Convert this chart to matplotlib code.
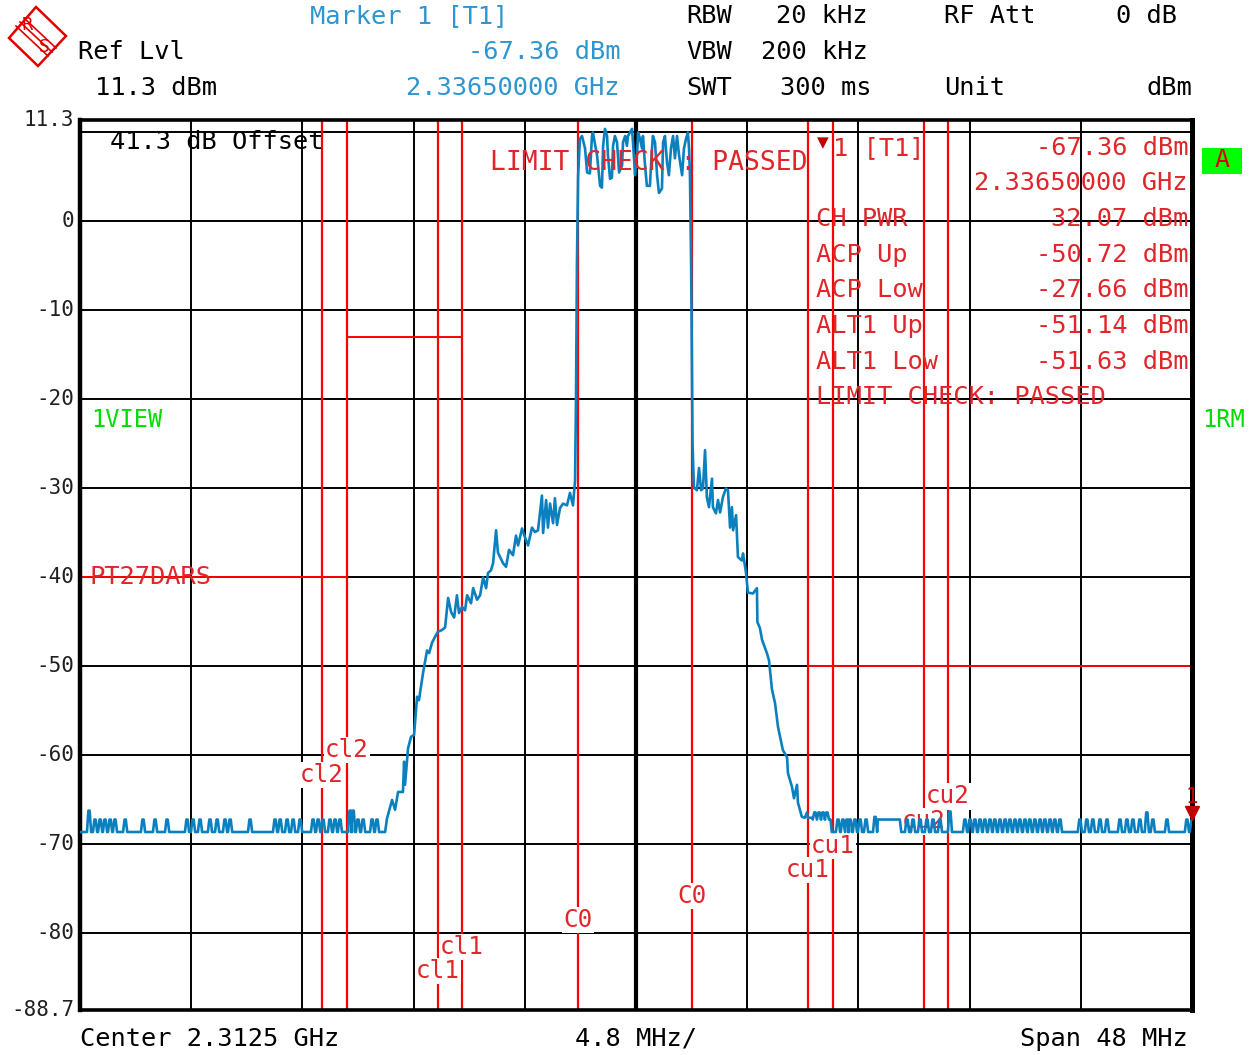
import matplotlib
matplotlib.use("Agg")
import matplotlib.pyplot as plt
from matplotlib.lines import Line2D
from matplotlib.patches import Polygon, Rectangle

W, H = 1257, 1055
FONT = "DejaVu Sans Mono"

# ---- sweep settings ----
center_ghz = 2.3125
span_mhz = 48.0
ref_lvl = 11.3
bottom_lvl = -88.7
floor_dbm = -68.7

# ---- trace (frequency offset from center in MHz, level in dBm) ----
left_spike_mhz = [-23.61, -23.35, -23.13, -22.92, -22.70, -22.49, -22.05, -21.28, -20.76,
                  -20.24, -19.38, -19.12, -18.82, -18.39, -18.08, -17.74, -17.52, -16.66,
                  -15.58, -15.36, -15.06, -14.80, -14.50, -13.94, -13.72, -13.51, -13.21,
                  -12.99, -12.78, -12.34, -12.21, -12.00, -11.78, -11.39, -11.18]
left_spike_dbm = [-66.3, -67.3, -67.3, -67.3, -67.3, -67.3, -67.3, -67.3, -67.3,
                  -67.3, -67.3, -67.3, -67.3, -67.3, -67.3, -67.3, -67.3, -67.3,
                  -67.3, -67.3, -67.3, -67.3, -67.3, -67.3, -67.3, -67.3, -67.3,
                  -67.3, -67.3, -66.3, -66.3, -67.3, -67.3, -67.3, -67.3]

skirt_lo_mhz = [-10.83, -10.75, -10.53, -10.40, -10.27, -10.06, -10.01, -9.97, -9.84, -9.71,
                -9.58, -9.45, -9.37, -9.19, -9.02, -8.93, -8.80, -8.68, -8.55, -8.37,
                -8.24, -8.11, -7.98, -7.85, -7.73, -7.64, -7.51, -7.38, -7.29, -7.12,
                -7.03, -6.86, -6.73, -6.60, -6.47, -6.39, -6.26, -6.17, -6.04, -5.96,
                -5.74, -5.61, -5.48, -5.31, -5.18, -5.09, -4.92, -4.79, -4.66, -4.49,
                -4.36, -4.23, -4.06, -4.01, -3.88, -3.80, -3.71, -3.58, -3.50, -3.41,
                -3.28, -3.15, -2.98, -2.85, -2.72, -2.63]
skirt_lo_dbm = [-68.7, -67.2, -65.1, -66.2, -64.2, -64.2, -60.8, -63.4, -59.3, -58.0,
                -57.8, -53.5, -53.9, -50.8, -48.3, -48.6, -47.4, -46.8, -46.2, -46.0,
                -45.7, -42.4, -44.0, -44.6, -42.1, -44.1, -43.4, -43.8, -42.1, -43.0,
                -41.3, -42.6, -42.1, -40.1, -41.3, -39.6, -39.3, -38.5, -34.8, -37.3,
                -38.5, -38.9, -37.0, -37.6, -35.4, -36.5, -34.6, -35.6, -36.5, -34.5,
                -35.0, -34.8, -30.9, -35.1, -31.4, -34.5, -31.8, -34.0, -31.2, -34.2,
                -32.3, -31.8, -32.0, -30.6, -32.0, -29.2]

lobe_mhz = [-2.59, -2.55, -2.50, -2.42, -2.33, -2.20, -2.11, -1.99, -1.90, -1.86,
            -1.68, -1.55, -1.47, -1.42, -1.34, -1.25, -1.21, -1.12, -1.04, -0.99,
            -0.91, -0.82, -0.73, -0.60, -0.56, -0.47, -0.39, -0.35, -0.17, -0.13,
            -0.04, 0.04, 0.09, 0.17, 0.26, 0.30, 0.39, 0.47, 0.60, 0.69,
            0.73, 0.82, 0.91, 0.99, 1.12, 1.17, 1.25, 1.34, 1.42, 1.51,
            1.60, 1.68, 1.77, 1.86, 1.99, 2.07, 2.16, 2.24, 2.29, 2.33]
lobe_dbm = [-20.0, -5.0, 5.0, 9.2, 9.5, 8.1, 5.4, 5.3, 9.5, 9.9,
            7.3, 3.9, 3.7, 8.4, 10.3, 9.5, 7.3, 4.7, 4.8, 8.4,
            9.5, 8.8, 5.4, 6.2, 8.8, 9.5, 8.4, 9.5, 10.3, 8.8,
            5.1, 7.3, 9.9, 9.2, 8.1, 9.5, 6.2, 3.9, 3.9, 8.1,
            9.5, 8.8, 5.1, 3.1, 3.6, 8.8, 9.5, 6.5, 5.1, 8.1,
            9.5, 7.0, 9.5, 7.3, 5.1, 8.1, 9.2, 9.9, 8.1, 5.0]

skirt_hi_mhz = [2.38, 2.44, 2.50, 2.63, 2.72, 2.81, 2.89, 2.98, 3.06, 3.15,
                3.28, 3.32, 3.45, 3.54, 3.63, 3.75, 3.88, 3.97, 4.06, 4.14,
                4.19, 4.32, 4.40, 4.57, 4.62, 4.75, 4.83, 5.05, 5.22, 5.24,
                5.35, 5.44, 5.65, 5.74, 5.87, 6.00, 6.13, 6.34, 6.52, 6.56,
                6.73, 6.82, 6.95, 6.99, 7.16, 7.29, 7.38, 7.42, 7.60]
skirt_hi_dbm = [-5.0, -25.0, -30.0, -30.3, -27.8, -30.3, -30.1, -25.8, -31.1, -32.2,
                -29.0, -32.2, -32.9, -31.4, -32.8, -31.1, -30.1, -30.3, -34.5, -32.2,
                -34.8, -33.1, -37.8, -38.2, -37.4, -39.6, -41.8, -41.9, -41.3, -45.1,
                -45.8, -47.1, -48.6, -49.4, -52.7, -54.2, -56.9, -59.5, -60.3, -62.1,
                -63.6, -64.9, -63.4, -65.4, -67.0, -67.1, -66.5, -67.1, -67.1]

shelf1_level = -67.3
shelf1_spike_mhz = [7.72, 7.90, 8.07, 8.24]
shelf1_spike_dbm = [-66.5, -66.5, -66.5, -66.5]
step1_mhz = [8.40, 8.45]
step1_dbm = [-67.3, -68.7]
right1_spike_mhz = [8.72, 8.93, 9.11, 9.24, 9.45, 9.67, 9.93, 10.32]
right1_spike_dbm = [-67.3, -67.3, -67.3, -67.3, -67.3, -67.3, -67.3, -67.0]
shelf2_mhz = [10.44, 11.39, 11.45]
shelf2_dbm = [-67.3, -67.3, -68.7]
right2_spike_mhz = [11.70, 11.96, 12.26, 12.56, 12.82, 13.12, 13.55, 14.20, 14.42, 14.63,
                    14.85, 15.06, 15.28, 15.49, 15.71, 15.93, 16.14, 16.36, 16.57, 16.79,
                    17.00, 17.22, 17.44, 17.65, 17.87, 18.08, 18.30, 19.16, 19.46, 19.72,
                    20.03, 20.33, 20.89, 21.19, 21.45, 21.75, 22.05, 22.31, 22.92, 23.78]
right2_spike_dbm = [-67.3, -67.3, -67.3, -67.3, -67.3, -67.3, -66.4, -67.3, -67.3, -67.3,
                    -67.3, -67.3, -67.3, -67.3, -67.3, -67.3, -67.3, -67.3, -67.3, -67.3,
                    -67.3, -67.3, -67.3, -67.3, -67.3, -67.3, -67.3, -67.3, -67.3, -67.3,
                    -67.3, -67.3, -67.3, -67.3, -67.3, -67.3, -66.5, -67.3, -67.3, -67.3]
end_mhz = [23.90, 23.98, 24.0]
end_dbm = [-68.7, -67.36, -67.36]

marker_mhz = 24.0
marker_dbm = -67.36

# ---- channel / limit settings ----
chan_mhz = [-13.55, -12.47, -8.55, -7.51, -2.50, 2.42, 7.42, 8.50, 12.43, 13.47]
chan_names = ["cl2", "cl2", "cl1", "cl1", "C0", "C0", "cu1", "cu1", "cu2", "cu2"]
chan_label_dbm = [-62.3, -59.5, -84.3, -81.6, -78.6, -75.9, -73.0, -70.3, -67.5, -64.7]

limit_lo_mhz = [-24.0, -12.47, -12.47, -7.51]
limit_lo_dbm = [-40.0, -40.0, -13.1, -13.1]
limit_hi_mhz = [7.42, 24.0]
limit_hi_dbm = [-50.0, -50.0]

ytick_vals = [11.3, 0, -10, -20, -30, -40, -50, -60, -70, -80, -88.7]
ytick_text = ["11.3", "0", "-10", "-20", "-30", "-40", "-50", "-60", "-70", "-80", "-88.7"]
hgrid_dbm = [10, 0, -10, -20, -30, -40, -50, -60, -70, -80]
vgrid_div = [-4, -3, -2, -1, 1, 2, 3, 4]
div_mhz = 4.8

meas_names = ["CH PWR", "ACP Up", "ACP Low", "ALT1 Up", "ALT1 Low"]
meas_vals = ["32.07 dBm", "-50.72 dBm", "-27.66 dBm", "-51.14 dBm", "-51.63 dBm"]

TRACE = "#0B80BE"
RED = "#FF0000"
RTXT = "#E0262A"
BLUE_TXT = "#2E96CF"
GREEN = "#00DD00"
FS = 18.3


def spiky(freqs, tops, base, half=0.09):
    xs, ys = [], []
    for f, t in zip(freqs, tops):
        xs += [f - half, f - half * 0.3, f + half * 0.3, f + half]
        ys += [base, t, t, base]
    return xs, ys


tx, ty = [-24.0], [floor_dbm]
for seg in (spiky(left_spike_mhz, left_spike_dbm, floor_dbm),
            (skirt_lo_mhz, skirt_lo_dbm), (lobe_mhz, lobe_dbm),
            (skirt_hi_mhz, skirt_hi_dbm),
            spiky(shelf1_spike_mhz, shelf1_spike_dbm, shelf1_level),
            (step1_mhz, step1_dbm),
            spiky(right1_spike_mhz, right1_spike_dbm, floor_dbm),
            (shelf2_mhz, shelf2_dbm),
            spiky(right2_spike_mhz, right2_spike_dbm, floor_dbm),
            (end_mhz, end_dbm)):
    tx += list(seg[0])
    ty += list(seg[1])

fig = plt.figure(figsize=(W / 100, H / 100), dpi=100)
fig.patch.set_facecolor("white")


def fx(x):
    return x / W


def fy(y):
    return 1 - y / H


ax = fig.add_axes([fx(80), fy(1010), fx(1192) - fx(80), fy(120) - fy(1010)])
ax.set_xlim(-span_mhz / 2, span_mhz / 2)
ax.set_ylim(bottom_lvl, ref_lvl)
ax.set_xticks([])
ax.set_yticks([])
for side, lw in (("left", 3.2), ("right", 3.6), ("top", 2.6), ("bottom", 2.6)):
    ax.spines[side].set_linewidth(lw)
    ax.spines[side].set_color("black")

# graticule
for lvl in hgrid_dbm:
    ax.axhline(lvl, color="black", lw=1.4, zorder=1)
for d in vgrid_div:
    ax.axvline(d * div_mhz, color="black", lw=1.4, zorder=1)
ax.axvline(0, color="black", lw=3.0, zorder=1)

# channel bounds
for f in chan_mhz:
    ax.axvline(f, color=RED, lw=1.6, zorder=2)
for f, name, lv in zip(chan_mhz, chan_names, chan_label_dbm):
    ax.text(f, lv, name, color=RTXT, fontsize=17.5, family=FONT, ha="center", va="center",
            zorder=3, bbox=dict(boxstyle="square,pad=0.05", fc="white", ec="none"))

# limit lines
ax.plot(limit_lo_mhz, limit_lo_dbm, color=RED, lw=1.4, zorder=2)
ax.plot(limit_hi_mhz, limit_hi_dbm, color=RED, lw=1.4, zorder=2)
ax.text(-23.6, -40.0, "PT27DARS", color=RTXT, fontsize=FS, family=FONT,
        ha="left", va="center", zorder=3)

# trace
ax.plot(tx, ty, color=TRACE, lw=1.9, zorder=4)
ax.plot([marker_mhz], [marker_dbm + 0.8], marker="v", color="#C00000", ms=10, zorder=5,
        clip_on=False)
ax.text(marker_mhz, marker_dbm + 2.6, "1", color="#C00000", fontsize=15, family=FONT,
        ha="center", va="center", zorder=5)

# y scale labels
ytr = ax.get_yaxis_transform()
for v, s in zip(ytick_vals, ytick_text):
    ax.text(-0.005, v, s, transform=ytr, ha="right", va="center", fontsize=15,
            family=FONT, color="#202020")

# in-graph annotations
fig.text(fx(110), fy(142), "41.3 dB Offset", fontsize=FS, family=FONT, color="black",
         ha="left", va="center")
fig.text(fx(490), fy(163), "LIMIT CHECK : PASSED", fontsize=19, family=FONT,
         color=RTXT, ha="left", va="center")
fig.text(fx(817), fy(143), "\u25BC", fontsize=11, family="DejaVu Sans", color="#C00000",
         ha="left", va="center")
fig.text(fx(833), fy(148), "1 [T1]", fontsize=FS, family=FONT, color=RTXT,
         ha="left", va="center")
fig.text(fx(1188), fy(148), "-67.36 dBm", fontsize=FS, family=FONT, color=RTXT,
         ha="right", va="center")
fig.text(fx(1188), fy(183), "2.33650000 GHz", fontsize=FS, family=FONT, color=RTXT,
         ha="right", va="center")
for i, (n, v) in enumerate(zip(meas_names, meas_vals)):
    yy = 219 + i * 35.7
    fig.text(fx(816), fy(yy), n, fontsize=FS, family=FONT, color=RTXT, ha="left",
             va="center")
    fig.text(fx(1188), fy(yy), v, fontsize=FS, family=FONT, color=RTXT, ha="right",
             va="center")
fig.text(fx(816), fy(397), "LIMIT CHECK: PASSED", fontsize=FS, family=FONT, color=RTXT,
         ha="left", va="center")
fig.text(fx(91), fy(420), "1VIEW", fontsize=17, family=FONT, color=GREEN,
         ha="left", va="center")
fig.text(fx(1202), fy(420), "1RM", fontsize=17, family=FONT, color=GREEN,
         ha="left", va="center")
fig.patches.append(Rectangle((fx(1202), fy(174)), fx(40), 26 / H, transform=fig.transFigure,
                             fc="#00FF00", ec="none"))
fig.text(fx(1222), fy(160), "A", fontsize=18, family=FONT, color="#E00000",
         ha="center", va="center")


# header
def htxt(x, y, s, color="black", ha="left"):
    fig.text(fx(x), fy(y), s, fontsize=FS, family=FONT, color=color, ha=ha, va="center")


htxt(310, 16, "Marker 1 [T1]", BLUE_TXT)
htxt(620, 52, "-67.36 dBm", BLUE_TXT, "right")
htxt(620, 88, "2.33650000 GHz", BLUE_TXT, "right")
htxt(78, 52, "Ref Lvl")
htxt(95, 88, "11.3 dBm")
htxt(686, 16, "RBW")
htxt(868, 16, "20 kHz", ha="right")
htxt(686, 52, "VBW")
htxt(868, 52, "200 kHz", ha="right")
htxt(686, 88, "SWT")
htxt(780, 88, "300 ms")
htxt(944, 16, "RF Att")
htxt(1177, 16, "0 dB", ha="right")
htxt(944, 88, "Unit")
htxt(1192, 88, "dBm", ha="right")

# footer
htxt(80, 1039, "Center %.4f GHz" % center_ghz)
fig.text(fx(636), fy(1039), "%.1f MHz/" % div_mhz, fontsize=FS, family=FONT,
         color="black", ha="center", va="center")
htxt(1188, 1039, "Span %d MHz" % span_mhz, ha="right")

# instrument logo
logo = [(9, 38), (36, 7), (66, 36), (38, 66)]
fig.patches.append(Polygon([(fx(a), fy(b)) for a, b in logo], closed=True,
                           transform=fig.transFigure, fc="white", ec="#E00000", lw=1.8))
for off in (-4, 0, 4):
    fig.lines.append(Line2D([fx(20 + off), fx(52 + off)], [fy(22 - off), fy(52 - off)],
                            transform=fig.transFigure, color="#E00000", lw=1.2))
fig.text(fx(27), fy(25), "R", fontsize=12, family="DejaVu Sans", color="#E00000",
         ha="center", va="center")
fig.text(fx(44), fy(47), "S", fontsize=12, family="DejaVu Sans", color="#E00000",
         ha="center", va="center")

fig.savefig("out.png", dpi=100, facecolor="white")
